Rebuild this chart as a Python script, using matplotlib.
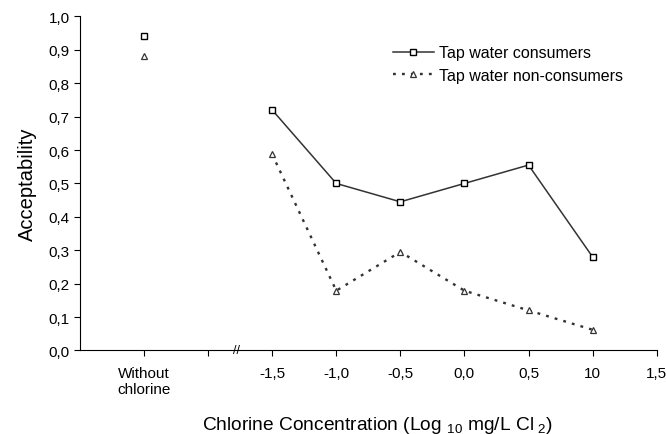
import matplotlib.pyplot as plt

plt.rcParams['font.family'] = ['Liberation Sans', 'DejaVu Sans']
plt.rcParams['mathtext.default'] = 'regular'

# "Without chlorine" is drawn at x = -2.5, the break sits between -2.0 and -1.5
without_x = -2.5
log_conc = [-1.5, -1.0, -0.5, 0.0, 0.5, 1.0]

consumers_without = 0.94
consumers = [0.72, 0.50, 0.445, 0.50, 0.555, 0.28]

non_consumers_without = 0.88
non_consumers = [0.587, 0.179, 0.295, 0.179, 0.12, 0.062]

x_ticks = [-2.5, -2.0, -1.5, -1.0, -0.5, 0.0, 0.5, 1.0, 1.5]
x_labels = ['Without\nchlorine', '', '-1,5', '-1,0', '-0,5', '0,0', '0,5', '10', '1,5']
y_ticks = [0.0, 0.1, 0.2, 0.3, 0.4, 0.5, 0.6, 0.7, 0.8, 0.9, 1.0]
y_labels = ['0,0', '0,1', '0,2', '0,3', '0,4', '0,5', '0,6', '0,7', '0,8', '0,9', '1,0']

fig = plt.figure(figsize=(6.66, 4.35), dpi=100)
ax = fig.add_axes([0.12, 0.192, 0.866, 0.768])

col = '#333333'
ax.plot(log_conc, consumers, color=col, lw=1.1, marker='s', ms=5,
        mfc='white', mec='black', mew=1.0, label='Tap water consumers')
ax.plot(log_conc, non_consumers, color=col, lw=1.7, ls=(0, (1.2, 2.6)), marker='^', ms=4.5,
        mfc='white', mec='#333333', mew=0.9, label='Tap water non-consumers')
ax.plot([without_x], [consumers_without], ls='none', marker='s', ms=5,
        mfc='white', mec='black', mew=1.0)
ax.plot([without_x], [non_consumers_without], ls='none', marker='^', ms=4,
        mfc='white', mec='#333333', mew=0.9)

ax.set_xlim(-3.0, 1.5)
ax.set_ylim(0, 1.0)
ax.set_xticks(x_ticks)
ax.set_xticklabels(x_labels)
ax.set_yticks(y_ticks)
ax.set_yticklabels(y_labels)
ax.get_xticklabels()[0].set_fontsize(10.5)

ax.spines['top'].set_visible(False)
ax.spines['right'].set_visible(False)
ax.tick_params(direction='out', length=4, labelsize=11, colors='black')
ax.tick_params(axis='x', pad=7)

# axis break mark
ax.text(-1.78, 0, '//', ha='center', va='center', fontsize=9, clip_on=False)

ax.set_ylabel('Acceptability', fontsize=14.5, labelpad=8)
ax.set_xlabel('Chlorine Concentration (Log $_{10}$ mg/L Cl$_{\\ 2}$)', fontsize=13.8, labelpad=13)
ax.xaxis.label.set_x(0.516)

ax.legend(loc='upper left', bbox_to_anchor=(0.542, 0.913), frameon=False,
          borderpad=0, borderaxespad=0, fontsize=11.5, handlelength=2.6,
          handletextpad=0.3, labelspacing=0.45)

plt.savefig('out.png')
